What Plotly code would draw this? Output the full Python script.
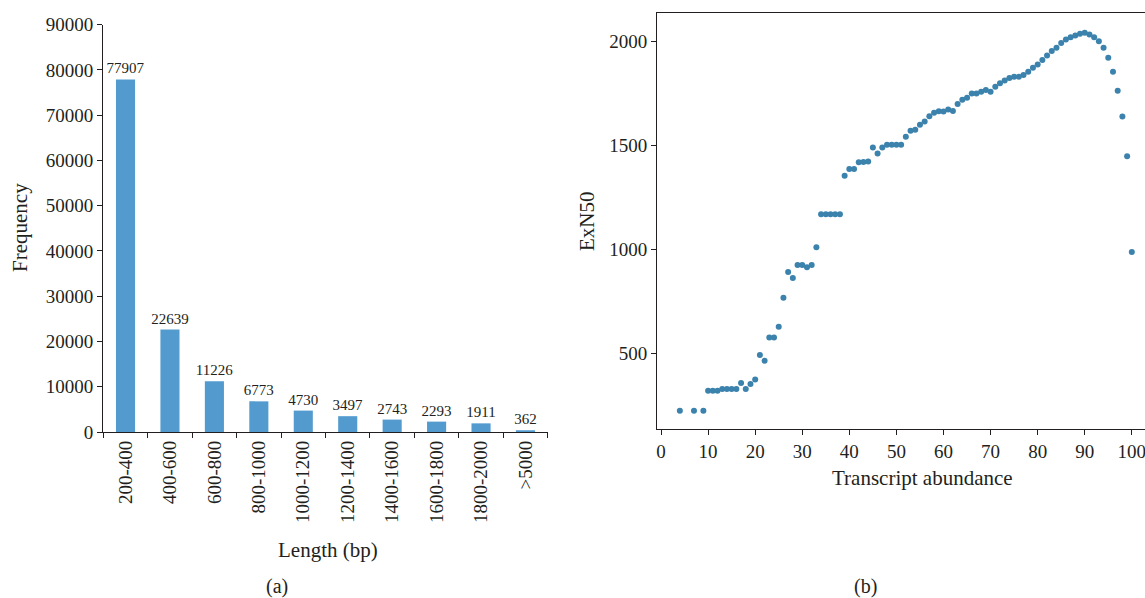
import plotly.graph_objects as go

# Panel (a): length distribution
length_bins = ["200-400", "400-600", "600-800", "800-1000", "1000-1200",
               "1200-1400", "1400-1600", "1600-1800", "1800-2000", ">5000"]
frequency = [77907, 22639, 11226, 6773, 4730, 3497, 2743, 2293, 1911, 362]
freq_ticks = [0, 10000, 20000, 30000, 40000, 50000, 60000, 70000, 80000, 90000]

# Panel (b): ExN50 vs transcript abundance
abundance = [4, 7, 9, 10, 11, 12, 13, 14, 15, 16, 17, 18, 19, 20, 21, 22, 23, 24, 25,
             26, 27, 28, 29, 30, 31, 32, 33, 34, 35, 36, 37, 38, 39, 40, 41, 42, 43,
             44, 45, 46, 47, 48, 49, 50, 51, 52, 53, 54, 55, 56, 57, 58, 59, 60, 61,
             62, 63, 64, 65, 66, 67, 68, 69, 70, 71, 72, 73, 74, 75, 76, 77, 78, 79,
             80, 81, 82, 83, 84, 85, 86, 87, 88, 89, 90, 91, 92, 93, 94, 95, 96, 97,
             98, 99, 100]
exn50 = [226, 226, 226, 322, 322, 322, 331, 331, 331, 331, 360, 331, 355, 376, 494,
         467, 578, 578, 630, 769, 893, 864, 927, 927, 916, 927, 1012, 1171, 1171,
         1171, 1171, 1171, 1356, 1388, 1388, 1420, 1422, 1424, 1491, 1463, 1491,
         1505, 1505, 1505, 1505, 1543, 1572, 1577, 1601, 1617, 1642, 1658, 1666,
         1665, 1674, 1667, 1701, 1721, 1730, 1751, 1751, 1760, 1768, 1760, 1783,
         1800, 1813, 1826, 1832, 1832, 1840, 1856, 1875, 1890, 1912, 1934, 1955,
         1971, 1994, 2011, 2021, 2030, 2038, 2043, 2035, 2021, 2002, 1971, 1923,
         1855, 1764, 1641, 1449, 989]
abundance_ticks = [0, 10, 20, 30, 40, 50, 60, 70, 80, 90, 100]
exn50_ticks = [500, 1000, 1500, 2000]

W, H = 1145, 598
FONT = "Liberation Serif"
INK = "#231f20"

def px(x):
    return x / W

def py(y):
    return 1 - y / H

fig = go.Figure()

fig.add_trace(go.Bar(
    x=length_bins, y=frequency,
    marker=dict(color="#539bcf", line=dict(width=0)),
    text=[str(v) for v in frequency], textposition="outside",
    constraintext="none",
    textfont=dict(family=FONT, size=15, color=INK),
    cliponaxis=False, xaxis="x", yaxis="y", showlegend=False,
))

fig.add_trace(go.Scatter(
    x=abundance, y=exn50, mode="markers",
    marker=dict(color="#3b82ad", size=6, line=dict(width=0)),
    xaxis="x2", yaxis="y2", showlegend=False, cliponaxis=False,
))

axis_common = dict(showgrid=False, zeroline=False, showline=True, linecolor=INK,
                   linewidth=1.3, ticks="outside", ticklen=5, tickcolor=INK,
                   tickwidth=1.3, automargin=False, ticklabeloverflow="allow",
                   tickfont=dict(family=FONT, size=19, color=INK))

fig.update_layout(
    width=W, height=H,
    margin=dict(l=0, r=0, t=0, b=0, autoexpand=False),
    paper_bgcolor="white", plot_bgcolor="white",
    bargap=0.57,
    xaxis=dict(domain=[px(103.3), px(547.7)], anchor="y", type="category",
               range=[-0.5, 9.5], tickson="boundaries", tickangle=-90,
               **axis_common),
    yaxis=dict(domain=[py(432), py(24.7)], anchor="x", range=[0, 90000],
               tickvals=freq_ticks, ticktext=[str(v) for v in freq_ticks],
               **axis_common),
    xaxis2=dict(domain=[px(657.3), 1.0], anchor="y2", range=[-0.79, 102.8],
                tickvals=abundance_ticks, ticktext=[str(v) for v in abundance_ticks],
                mirror=True, **axis_common),
    yaxis2=dict(domain=[py(429.3), py(13.3)], anchor="x2", range=[137, 2136.5],
                tickvals=exn50_ticks, ticktext=[str(v) for v in exn50_ticks],
                **axis_common),
)

title_font = dict(family=FONT, size=21, color=INK)
caption_font = dict(family=FONT, size=20, color=INK)
annots = [
    dict(text="Length (bp)", x=px(328), y=py(550), font=title_font),
    dict(text="Frequency", x=px(20), y=py(228), textangle=-90, font=title_font),
    dict(text="Transcript abundance", x=px(922), y=py(478), font=title_font),
    dict(text="ExN50", x=px(587), y=py(221), textangle=-90, font=title_font),
    dict(text="(a)", x=px(277), y=py(586), font=caption_font),
    dict(text="(b)", x=px(865), y=py(586), font=caption_font),
]
for a in annots:
    fig.add_annotation(xref="paper", yref="paper", showarrow=False,
                       xanchor="center", yanchor="middle", **a)

fig.write_html("out.html",
               config={"displayModeBar": False},
               post_script="document.body.style.margin='0';"
                           "document.body.style.overflow='hidden';")
